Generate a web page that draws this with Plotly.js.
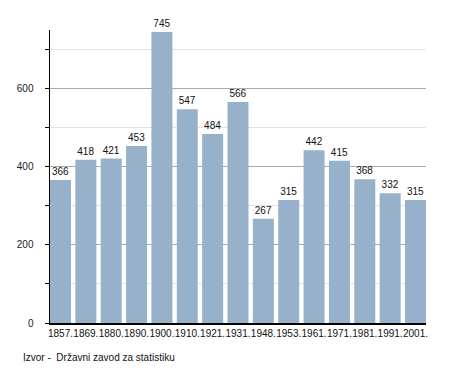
<!DOCTYPE html>
<html>
<head>
<meta charset="utf-8">
<script src="https://cdn.plot.ly/plotly-3.0.1.min.js"></script>
<style>html,body{margin:0;padding:0;background:#fff;}#chart{width:455px;height:373px;}</style>
</head>
<body>
<div id="chart"></div>
<script>
const years = ["1857.","1869.","1880.","1890.","1900.","1910.","1921.","1931.","1948.","1953.","1961.","1971.","1981.","1991.","2001."];
const population = [366,418,421,453,745,547,484,566,267,315,442,415,368,332,315];
const sourceNote = "Izvor -  Državni zavod za statistiku";

const fontFam = "Liberation Sans, Arial, sans-serif";
const trace = {
  type: 'bar',
  x: years,
  y: population,
  marker: {color: '#98b1cb'},
  text: population.map(String),
  textposition: 'outside',
  textfont: {family: fontFam, size: 10, color: '#111'},
  cliponaxis: false,
  hoverinfo: 'none'
};
const layout = {
  width: 455, height: 373,
  margin: {l: 50, r: 29, t: 30, b: 50, pad: 0},
  paper_bgcolor: '#fff', plot_bgcolor: '#fff',
  showlegend: false,
  bargap: 0.172,
  font: {family: fontFam, size: 10, color: '#222'},
  xaxis: {
    type: 'category',
    range: [-0.414, 14.414],
    showline: true, linecolor: '#000', linewidth: 1.5,
    ticks: '', showgrid: false, zeroline: false,
    tickangle: 0,
    tickfont: {family: fontFam, size: 10, color: '#111'},
    ticklabelstandoff: 0
  },
  yaxis: {
    range: [0, 750],
    dtick: 200, tick0: 0,
    showline: true, linecolor: '#000', linewidth: 1.5,
    ticks: 'outside', ticklen: 4, tickcolor: '#000', tickwidth: 1,
    showgrid: true, gridcolor: '#aaaaaa', gridwidth: 1,
    zeroline: false,
    ticklabelstandoff: 9,
    tickfont: {family: fontFam, size: 10, color: '#222'},
    minor: {dtick: 100, tick0: 0, ticks: 'outside', ticklen: 4, tickcolor: '#000', showgrid: true, gridcolor: '#e3e3e3', gridwidth: 1}
  },
  annotations: [{
    xref: 'paper', yref: 'paper', x: -0.078, y: -0.118,
    xanchor: 'left', yanchor: 'middle', showarrow: false,
    text: sourceNote,
    font: {family: fontFam, size: 10, color: '#111'}
  }]
};
Plotly.newPlot('chart', [trace], layout, {staticPlot: true, displayModeBar: false});
</script>
</body>
</html>
